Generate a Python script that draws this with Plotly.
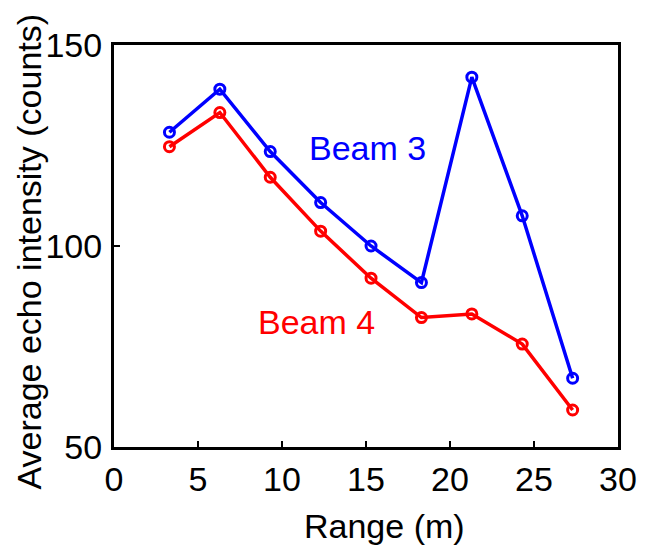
import plotly.graph_objects as go

range_m = [3.3, 6.3, 9.3, 12.3, 15.3, 18.3, 21.3, 24.3, 27.3]
beam3 = [128.3, 139.0, 123.5, 110.8, 100.0, 90.9, 142.0, 107.5, 67.1]
beam4 = [124.7, 133.2, 117.1, 103.7, 92.0, 82.2, 83.1, 75.6, 59.2]
x_ticks = [0, 5, 10, 15, 20, 25, 30]
y_ticks = [50, 100, 150]

FONT = "Liberation Sans, Arial, sans-serif"

fig = go.Figure()
for y, col in [(beam3, "#0000ff"), (beam4, "#ff0000")]:
    fig.add_trace(go.Scatter(
        x=range_m, y=y, mode="lines+markers",
        line=dict(color=col, width=3.5),
        marker=dict(symbol="circle-open", size=10, color=col, line=dict(width=3, color=col)),
        showlegend=False,
    ))

fig.add_annotation(x=15.1, y=124.4, text="Beam 3", showarrow=False,
                   font=dict(family=FONT, size=34, color="#0000ff"))
fig.add_annotation(x=12.05, y=81.2, text="Beam 4", showarrow=False,
                   font=dict(family=FONT, size=34, color="#ff0000"))

# axis titles
fig.add_annotation(xref="paper", yref="paper", x=0.536, y=-0.197, text="Range (m)",
                   showarrow=False, xanchor="center", yanchor="middle",
                   font=dict(family=FONT, size=34, color="black"))
fig.add_annotation(xref="paper", yref="paper", x=-0.168, y=0.487,
                   text="Average echo intensity (counts)", textangle=-90,
                   showarrow=False, xanchor="center", yanchor="middle",
                   font=dict(family=FONT, size=34, color="black"))

axis_common = dict(
    showgrid=False, zeroline=False, showline=True, linecolor="black", linewidth=3,
    mirror=True, ticks="inside", ticklen=6, tickwidth=2, tickcolor="black",
    tickfont=dict(family=FONT, size=34, color="black"),
)
fig.update_xaxes(range=[0, 30], tickvals=x_ticks, ticktext=[str(v) for v in x_ticks],
                 **axis_common)
fig.update_yaxes(range=[50, 150], tickvals=y_ticks, ticktext=[str(v) for v in y_ticks],
                 ticklabelstandoff=2,
                 **axis_common)

fig.update_layout(
    width=649, height=545,
    margin=dict(l=114, r=26, t=45, b=98),
    plot_bgcolor="white", paper_bgcolor="white",
)
fig.write_html("out.html")
